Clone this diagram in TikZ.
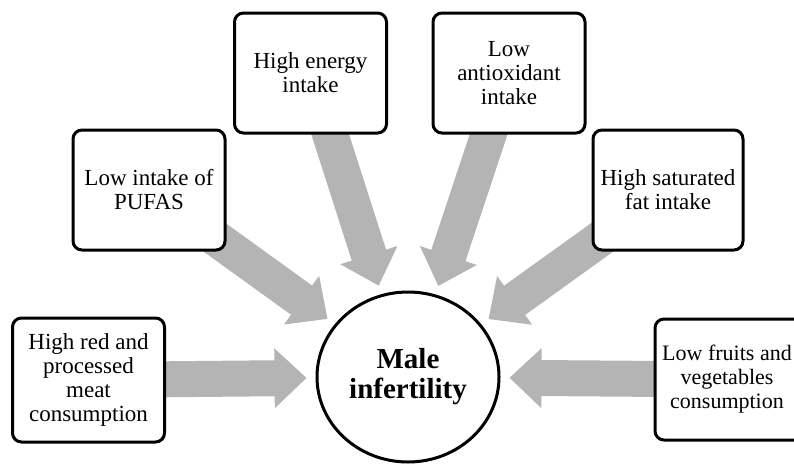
\documentclass[tikz,border=0pt]{standalone}
\usepackage{fontspec}
\setmainfont{Liberation Serif}
\usetikzlibrary{calc,shapes.geometric}
\pgfdeclarelayer{bg}
\pgfsetlayers{bg,main}
\definecolor{arrowgray}{RGB}{180,180,180}
\tikzset{
  factor/.style={draw=black, line width=3pt, rounded corners=9pt, fill=white,
    align=center, inner sep=0pt, minimum width=152pt, minimum height=120pt,
    font=\fontsize{23}{24}\selectfont},
  centre/.style={ellipse, draw=black, line width=3pt, fill=white, align=center,
    inner sep=0pt, minimum width=182pt, minimum height=170pt,
    font=\fontsize{29}{30}\selectfont\bfseries}
}
\newcommand{\blockarrow}[1]{%
  \path (#1.center) -- (male) coordinate[pos=1] (e#1);
  \coordinate (t#1) at ($(e#1)!9pt!(#1.center)$);
  \coordinate (b#1) at ($(t#1)!32pt!(#1.center)$);
  \fill[arrowgray] ($(#1.center)!18pt!90:(t#1)$) -- ($(b#1)!18pt!-90:(#1.center)$)
    -- ($(b#1)!30pt!-90:(#1.center)$) -- (t#1) -- ($(b#1)!30pt!90:(#1.center)$)
    -- ($(b#1)!18pt!90:(#1.center)$) -- ($(#1.center)!18pt!-90:(t#1)$) -- cycle;
}
\begin{document}
\begin{tikzpicture}[x=1pt,y=-1pt]
\useasboundingbox (0,0) rectangle (794,466);
\node[centre] (male) at (408,377) {Male\\infertility};
\node[factor, minimum height=124pt] (meat) at (88.5,380) {High red and\\processed\\meat\\consumption};
\node[factor] (pufas) at (149,190) {Low intake of\\PUFAS};
\node[factor] (energy) at (310.5,73) {High energy\\intake};
\node[factor] (antiox) at (509,73) {Low\\antioxidant\\intake};
\node[factor, minimum width=150pt] (satfat) at (668,190) {High saturated\\fat intake};
\node[factor, minimum width=150pt, minimum height=121pt] (fruit) at (730,379.5) {};
\node[font=\fontsize{22}{24}\selectfont, align=center, inner sep=0pt] (fruittext) at (727,379.5) {Low fruits and\\vegetables\\consumption};
\begin{pgfonlayer}{bg}
\blockarrow{meat}
\blockarrow{pufas}
\blockarrow{energy}
\blockarrow{antiox}
\blockarrow{satfat}
\blockarrow{fruit}
\end{pgfonlayer}
\end{tikzpicture}
\end{document}
